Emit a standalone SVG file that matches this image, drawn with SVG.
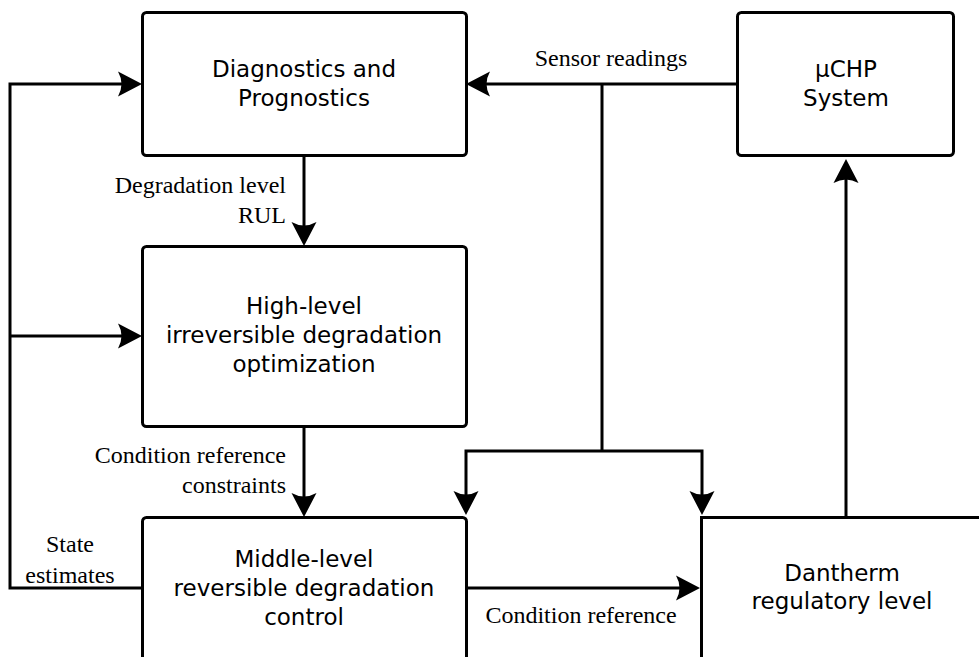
<svg xmlns="http://www.w3.org/2000/svg" width="979" height="657" viewBox="0 0 979 657">
<style>
.box{fill:#fff;stroke:#000;stroke-width:3}
.t{font-family:"DejaVu Sans",sans-serif;font-size:23px;text-anchor:middle;fill:#000}
.l{font-family:"Liberation Serif","Times New Roman",serif;font-size:24px;fill:#000}
.c{fill:none;stroke:#000;stroke-width:3;marker-end:url(#ah)}
.n{fill:none;stroke:#000;stroke-width:3}
</style>
<defs>
<marker id="ah" markerUnits="userSpaceOnUse" viewBox="-26 -14 28 28" refX="-8" refY="0" markerWidth="28" markerHeight="28" orient="auto" overflow="visible">
<path d="M0,0 L-24,-12.5 Q-17,0 -24,12.5 Z" fill="#000"/>
</marker>
</defs>
<rect width="979" height="657" fill="#fff"/>
<g id="connectors">
<path class="c" d="M737,84 L474,84"/>
<path class="n" d="M602,84 L602,451"/>
<path class="c" d="M602,451 L466,451 L466,507"/>
<path class="c" d="M602,451 L702,451 L702,507"/>
<path class="c" d="M304,156 L304,238"/>
<path class="c" d="M304,426 L304,509"/>
<path class="c" d="M142,588 L10,588 L10,84 L134,84"/>
<path class="c" d="M10,336 L134,336"/>
<path class="c" d="M466,588 L692,588"/>
<path class="c" d="M846,517 L846,167"/>
</g>
<g id="diag">
<rect class="box" x="142.5" y="12.5" width="324" height="143" rx="4"/>
<text class="t" x="304" y="77">Diagnostics and</text>
<text class="t" x="304" y="106">Prognostics</text>
</g>
<g id="high">
<rect class="box" x="142.5" y="246.5" width="324" height="180" rx="4"/>
<text class="t" x="304" y="314">High-level</text>
<text class="t" x="304" y="343">irreversible degradation</text>
<text class="t" x="304" y="372">optimization</text>
</g>
<g id="middle">
<rect class="box" x="142.5" y="517.5" width="324" height="170" rx="4"/>
<text class="t" x="304" y="567">Middle-level</text>
<text class="t" x="304" y="596">reversible degradation</text>
<text class="t" x="304" y="625">control</text>
</g>
<g id="uchp">
<rect class="box" x="737.5" y="12.5" width="216" height="143" rx="4"/>
<text class="t" x="846" y="77">μCHP</text>
<text class="t" x="846" y="106">System</text>
</g>
<g id="dantherm">
<rect class="box" x="701.5" y="517.5" width="300" height="170"/>
<text class="t" x="842" y="581">Dantherm</text>
<text class="t" x="842" y="609">regulatory level</text>
</g>
<g id="labels">
<text class="l" x="611" y="66" text-anchor="middle">Sensor readings</text>
<text class="l" x="286" y="193" text-anchor="end">Degradation level</text>
<text class="l" x="286" y="223" text-anchor="end">RUL</text>
<text class="l" x="286" y="463" text-anchor="end">Condition reference</text>
<text class="l" x="286" y="493" text-anchor="end">constraints</text>
<text class="l" x="70" y="552" text-anchor="middle">State</text>
<text class="l" x="70" y="583" text-anchor="middle">estimates</text>
<text class="l" x="581" y="623" text-anchor="middle">Condition reference</text>
</g>
</svg>
